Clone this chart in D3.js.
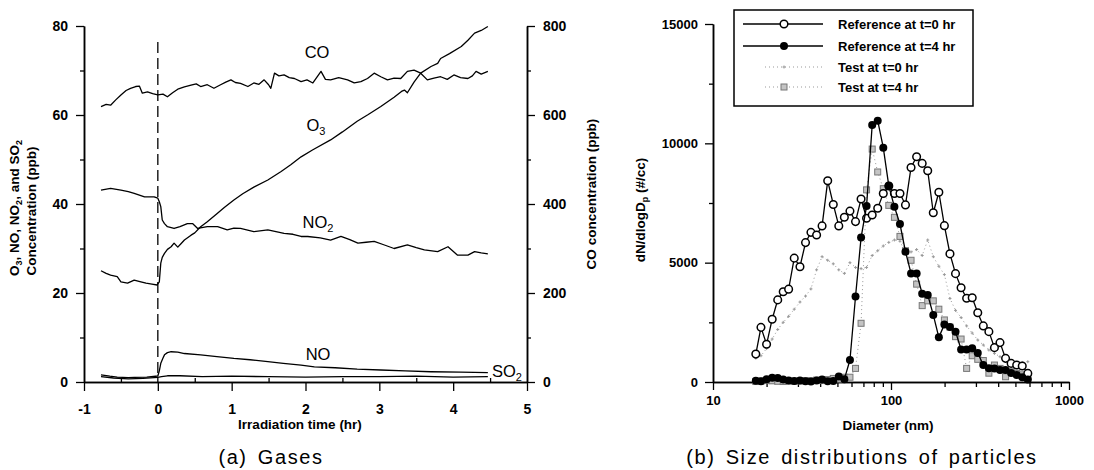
<!DOCTYPE html>
<html>
<head>
<meta charset="utf-8">
<script src="https://cdn.jsdelivr.net/npm/d3@7"></script>
<style>
body { margin: 0; background: #fff; }
svg { display: block; font-family: "Liberation Sans", Arial, Helvetica, sans-serif; }
</style>
</head>
<body>
<svg id="fig" width="1094" height="470"></svg>
<script>
// ---------- (a) gases : values ----------
const coTime = [-0.77, -0.70, -0.64, -0.57, -0.50, -0.43, -0.37, -0.30, -0.25, -0.21, -0.14, -0.07, 0, 0.07, 0.13, 0.20, 0.27, 0.36, 0.45, 0.52, 0.58, 0.67, 0.76, 0.85, 0.92, 0.99, 1.05, 1.12, 1.22, 1.30, 1.37, 1.44, 1.50, 1.53, 1.58, 1.64, 1.71, 1.78, 1.85, 1.94, 2.02, 2.10, 2.21, 2.27, 2.34, 2.45, 2.57, 2.66, 2.75, 2.84, 2.93, 3.02, 3.11, 3.20, 3.29, 3.38, 3.47, 3.56, 3.65, 3.74, 3.83, 3.92, 4.01, 4.10, 4.20, 4.26, 4.31, 4.38, 4.47];
const coPpb = [619, 624, 622, 634, 645, 655, 660, 664, 665, 649, 652, 648, 645, 647, 641, 650, 658, 663, 667, 670, 664, 668, 660, 668, 674, 679, 673, 671, 664, 672, 669, 679, 668, 660, 694, 688, 690, 684, 682, 675, 679, 672, 698, 680, 679, 684, 679, 672, 675, 682, 694, 686, 679, 683, 682, 698, 701, 694, 679, 683, 686, 680, 690, 684, 682, 688, 698, 692, 698];

const o3Time = [-0.77, -0.70, -0.64, -0.55, -0.50, -0.41, -0.32, -0.23, -0.16, -0.08, -0.01, 0.02, 0.04, 0.06, 0.09, 0.13, 0.18, 0.22, 0.27, 0.31, 0.36, 0.45, 0.50, 0.58, 0.67, 0.80, 0.90, 1.03, 1.15, 1.30, 1.49, 1.67, 1.80, 1.94, 2.10, 2.34, 2.50, 2.70, 2.85, 3.02, 3.20, 3.30, 3.34, 3.38, 3.47, 3.56, 3.70, 3.79, 3.83, 3.95, 4.11, 4.20, 4.29, 4.38, 4.47];
const o3Ppb = [25.0, 24.4, 24.0, 23.7, 22.5, 22.2, 22.9, 22.5, 22.2, 22.0, 21.8, 22.5, 26.7, 28.0, 28.9, 29.8, 30.4, 31.2, 30.3, 31.0, 31.9, 33.0, 33.5, 34.9, 36.0, 37.8, 39.2, 40.9, 42.3, 43.8, 45.4, 47.3, 48.8, 50.6, 52.2, 54.4, 56.2, 58.6, 60.1, 61.9, 64.0, 65.3, 65.6, 65.0, 67.4, 69.4, 70.9, 71.6, 72.7, 73.8, 75.4, 76.8, 78.4, 79.0, 79.9];

const no2Time = [-0.77, -0.64, -0.50, -0.40, -0.32, -0.18, -0.05, 0, 0.02, 0.04, 0.06, 0.09, 0.13, 0.22, 0.30, 0.40, 0.47, 0.54, 0.67, 0.81, 0.94, 1.03, 1.12, 1.30, 1.49, 1.60, 1.71, 1.83, 1.94, 2.03, 2.20, 2.34, 2.48, 2.60, 2.71, 2.82, 2.93, 3.05, 3.20, 3.38, 3.50, 3.61, 3.79, 3.93, 4.06, 4.20, 4.29, 4.38, 4.47];
const no2Ppb = [43.1, 43.5, 43.1, 42.8, 42.4, 41.6, 41.6, 41.3, 40.5, 39.4, 36.4, 35.6, 34.9, 34.5, 34.9, 35.6, 35.6, 34.5, 34.9, 34.9, 34.2, 34.6, 34.5, 33.8, 34.2, 33.8, 33.4, 33.2, 32.7, 32.7, 32.4, 31.9, 32.7, 32.0, 31.2, 31.4, 31.6, 30.9, 30.0, 30.8, 30.2, 29.7, 29.3, 30.4, 28.5, 28.5, 29.3, 29.0, 28.8];

const noTime = [-0.77, -0.65, -0.55, -0.40, -0.32, -0.15, 0, 0.02, 0.04, 0.07, 0.09, 0.13, 0.18, 0.27, 0.36, 0.58, 0.80, 1.03, 1.25, 1.49, 1.70, 1.94, 2.12, 2.40, 2.70, 3.02, 3.35, 3.70, 4.10, 4.47];
const noPpb = [1.6, 1.3, 1.1, 1.0, 1.05, 1.1, 1.35, 2.5, 4.2, 5.4, 6.1, 6.6, 6.8, 6.7, 6.4, 6.1, 5.7, 5.3, 5.0, 4.6, 4.2, 3.8, 3.4, 3.2, 2.9, 2.7, 2.5, 2.3, 2.2, 2.1];

const so2Time = [-0.77, -0.60, -0.40, -0.20, 0, 0.05, 0.13, 0.30, 0.60, 1.00, 1.50, 2.00, 2.50, 3.00, 3.50, 4.00, 4.47];
const so2Ppb = [1.2, 0.9, 0.7, 0.8, 1.05, 1.2, 1.4, 1.4, 1.2, 1.3, 1.2, 1.1, 1.2, 1.2, 1.3, 1.1, 1.2];

const irradiationStart = 0;
const timeTicks = [-1, 0, 1, 2, 3, 4, 5];
const timeMinor = [-0.5, 0.5, 1.5, 2.5, 3.5, 4.5];
const ppbTicks = [0, 20, 40, 60, 80];
const ppbMinor = [10, 30, 50, 70];
const coTicks = [0, 200, 400, 600, 800];
const coMinor = [100, 300, 500, 700];

// ---------- (b) particle size distributions ----------
const diameters = [17.4, 18.6, 20.0, 21.5, 23.1, 24.8, 26.6, 28.6, 30.8, 33.1, 35.5, 38.2, 41.0, 44.1, 47.4, 50.9, 54.7, 58.8, 63.2, 67.9, 72.9, 78.4, 84.2, 90.5, 97.2, 104.5, 112.3, 120.6, 129.6, 139.3, 149.7, 160.8, 172.8, 185.7, 199.5, 214.4, 230.4, 247.6, 266.0, 285.9, 307.2, 330.1, 354.7, 381.2, 409.6, 440.2, 473.0, 508.3, 546.2, 587.0];
const refT0 = [1170, 2290, 1580, 2630, 3440, 3780, 3890, 5190, 4830, 5840, 6270, 6160, 6540, 8430, 7440, 6540, 6900, 7160, 6720, 7670, 6860, 7000, 7280, 7900, 8210, 7900, 7900, 7420, 8990, 9440, 9160, 8850, 7090, 7950, 6550, 5370, 4540, 3950, 3510, 3530, 2900, 2350, 2110, 1440, 1650, 990, 780, 710, 670, 360];
const refT4 = [50, 30, 120, 180, 170, 100, 60, 40, 60, 30, 20, 60, 100, 30, 40, 230, 120, 920, 3580, 6050, 7370, 10770, 10950, 9820, 8220, 7340, 6620, 5460, 4550, 4550, 3700, 3650, 2810, 1870, 2410, 2300, 2110, 1360, 1360, 1410, 1220, 710, 580, 570, 500, 500, 380, 290, 200, 100];
const testT0 = [1000, 1100, 1400, 1800, 2200, 2500, 2750, 3050, 3350, 3600, 3900, 4700, 5250, 5100, 4950, 4700, 4550, 5000, 4800, 4750, 4800, 5300, 5500, 5700, 5850, 5950, 5900, 5400, 5450, 5550, 5300, 5950, 5250, 4850, 4500, 3500, 3000, 2700, 2350, 2050, 1760, 1550, 1340, 1200, 1060, 920, 850, 780, 820, 850];
const testT4 = [20, 40, 60, 50, 30, 20, 40, 30, 40, 60, 50, 80, 60, 100, 150, 120, 200, 200, 570, 2460, 8050, 9760, 8800, 8100, 7400, 6900, 6100, 5500, 5100, 4100, 3200, 3400, 3400, 3050, 2600, 2300, 1900, 1800, 570, 1100, 950, 900, 370, 710, 570, 220, 430, 360, 300, 220];
const seriesNames = ["Reference at t=0 hr", "Reference at t=4 hr", "Test at t=0 hr", "Test at t=4 hr"];
const dnTicks = [0, 5000, 10000, 15000];
const dnMinor = [2500, 7500, 12500];
const diaTicks = [10, 100, 1000];
const diaMinor = [20, 30, 40, 50, 60, 70, 80, 90, 200, 300, 400, 500, 600, 700, 800, 900];

/////////////////////////////////////////////////////
const svg = d3.select("#fig");

// writes text with subscript pieces, parts = [[string, isSub], ...]
function rich(sel, parts, subSize, shift) {
    let down = false;
    parts.forEach(([s, sub]) => {
        const t = sel.append("tspan").text(s);
        if (sub && !down) { t.attr("dy", shift).attr("font-size", subSize); down = true; }
        else if (sub) { t.attr("font-size", subSize); }
        else if (down) { t.attr("dy", -shift); down = false; }
    });
    return sel;
}

function styleAxis(g, size) {
    g.select(".domain").attr("stroke-width", 1.5);
    g.selectAll(".tick line").attr("stroke-width", 1.3);
    g.selectAll("text").attr("font-size", size).attr("font-weight", "bold").attr("fill", "#000");
}

const plain = d => String(d);

// ---------------- panel (a) ----------------
const x = d3.scaleLinear().domain([-1, 5]).range([84, 527]);
const y = d3.scaleLinear().domain([0, 80]).range([382, 26]);
const yCO = d3.scaleLinear().domain([0, 800]).range([382, 26]);

const pa = svg.append("g");

pa.append("g").attr("transform", "translate(0,382)")
    .call(d3.axisBottom(x).tickValues(timeTicks).tickFormat(plain).tickSize(9).tickPadding(13).tickSizeOuter(0))
    .call(g => styleAxis(g, 14));
pa.append("g").attr("transform", "translate(0,382)")
    .call(d3.axisBottom(x).tickValues(timeMinor).tickFormat("").tickSize(-4).tickSizeOuter(0))
    .call(g => styleAxis(g, 14));

pa.append("g").attr("transform", "translate(84,0)")
    .call(d3.axisLeft(y).tickValues(ppbTicks).tickFormat(plain).tickSize(8).tickPadding(8).tickSizeOuter(0))
    .call(g => styleAxis(g, 14));
pa.append("g").attr("transform", "translate(84,0)")
    .call(d3.axisLeft(y).tickValues(ppbMinor).tickFormat("").tickSize(4).tickSizeOuter(0))
    .call(g => styleAxis(g, 14));

pa.append("g").attr("transform", "translate(527,0)")
    .call(d3.axisRight(yCO).tickValues(coTicks).tickFormat(plain).tickSize(8).tickPadding(8).tickSizeOuter(0))
    .call(g => styleAxis(g, 14));
pa.append("g").attr("transform", "translate(527,0)")
    .call(d3.axisRight(yCO).tickValues(coMinor).tickFormat("").tickSize(4).tickSizeOuter(0))
    .call(g => styleAxis(g, 14));

// start of irradiation
pa.append("line")
    .attr("x1", x(irradiationStart)).attr("x2", x(irradiationStart))
    .attr("y1", 42).attr("y2", y(0))
    .attr("stroke", "#000").attr("stroke-width", 1.3).attr("stroke-dasharray", "11,5");

const lineL = d3.line().x(d => x(d[0])).y(d => y(d[1]));
const lineCO = d3.line().x(d => x(d[0])).y(d => yCO(d[1]));

const gasLines = [
    [d3.zip(o3Time, o3Ppb), lineL],
    [d3.zip(no2Time, no2Ppb), lineL],
    [d3.zip(noTime, noPpb), lineL],
    [d3.zip(so2Time, so2Ppb), lineL],
    [d3.zip(coTime, coPpb), lineCO]
];
pa.append("g").selectAll("path")
    .data(gasLines)
    .join("path")
        .attr("d", d => d[1](d[0]))
        .attr("fill", "none")
        .attr("stroke", "#000")
        .attr("stroke-width", 1.3)
        .attr("stroke-linejoin", "round");

// curve labels
const gasLabels = [
    { x: 317, y: 58, anchor: "middle", parts: [["CO"]] },
    { x: 316, y: 131, anchor: "middle", parts: [["O"], ["3", true]] },
    { x: 318, y: 228, anchor: "middle", parts: [["NO"], ["2", true]] },
    { x: 318, y: 360, anchor: "middle", parts: [["NO"]] },
    { x: 492, y: 377, anchor: "start", parts: [["SO"], ["2", true]] }
];
gasLabels.forEach(l => {
    const t = pa.append("text").attr("x", l.x).attr("y", l.y)
        .attr("text-anchor", l.anchor).attr("font-size", 16.5);
    rich(t, l.parts, 11, 4);
});

// axis titles
rich(pa.append("text").attr("transform", "translate(19,208) rotate(-90)")
    .attr("text-anchor", "middle").attr("font-size", 13.5).attr("font-weight", "bold"),
    [["O"], ["3", true], [", NO, NO"], ["2", true], [", and SO"], ["2", true]], 9, 3);
pa.append("text").attr("transform", "translate(36,211) rotate(-90)")
    .attr("text-anchor", "middle").attr("font-size", 13.5).attr("font-weight", "bold")
    .text("Concentration (ppb)");
pa.append("text").attr("transform", "translate(596,194) rotate(-90)")
    .attr("text-anchor", "middle").attr("font-size", 13.5).attr("font-weight", "bold")
    .text("CO concentration (ppb)");
pa.append("text").attr("x", 300).attr("y", 429)
    .attr("text-anchor", "middle").attr("font-size", 13.5).attr("font-weight", "bold")
    .text("Irradiation time (hr)");
pa.append("text").attr("x", 271).attr("y", 464)
    .attr("text-anchor", "middle").attr("font-size", 20)
    .attr("letter-spacing", 1.6).attr("word-spacing", 3)
    .text("(a) Gases");

// ---------------- panel (b) ----------------
const xd = d3.scaleLog().domain([10, 1000]).range([713, 1069]);
const yd = d3.scaleLinear().domain([0, 15000]).range([382, 24]);

const pb = svg.append("g");

pb.append("g").attr("transform", "translate(0,382)")
    .call(d3.axisBottom(xd).tickValues(diaTicks).tickFormat(plain).tickSize(8).tickPadding(6).tickSizeOuter(0))
    .call(g => styleAxis(g, 13));
pb.append("g").attr("transform", "translate(0,382)")
    .call(d3.axisBottom(xd).tickValues(diaMinor).tickFormat("").tickSize(5).tickSizeOuter(0))
    .call(g => styleAxis(g, 13));
pb.append("g").attr("transform", "translate(713,0)")
    .call(d3.axisLeft(yd).tickValues(dnTicks).tickFormat(plain).tickSize(8).tickPadding(7).tickSizeOuter(0))
    .call(g => styleAxis(g, 13));
pb.append("g").attr("transform", "translate(713,0)")
    .call(d3.axisLeft(yd).tickValues(dnMinor).tickFormat("").tickSize(4).tickSizeOuter(0))
    .call(g => styleAxis(g, 13));

const lineD = d3.line().x(d => xd(d[0])).y(d => yd(d[1]));

const distSeries = [
    { name: seriesNames[0], pts: d3.zip(diameters, refT0), stroke: "#000", dash: null, mark: "open" },
    { name: seriesNames[1], pts: d3.zip(diameters, refT4), stroke: "#000", dash: null, mark: "filled" },
    { name: seriesNames[2], pts: d3.zip(diameters, testT0), stroke: "#999", dash: "1,3", mark: "speck" },
    { name: seriesNames[3], pts: d3.zip(diameters, testT4), stroke: "#999", dash: "1,3", mark: "square" }
];

function drawMark(g, kind, px, py) {
    if (kind === "open") {
        g.append("circle").attr("cx", px).attr("cy", py).attr("r", 3.8)
            .attr("fill", "#fff").attr("stroke", "#000").attr("stroke-width", 1.5);
    } else if (kind === "filled") {
        g.append("circle").attr("cx", px).attr("cy", py).attr("r", 4)
            .attr("fill", "#000");
    } else if (kind === "speck") {
        g.append("path").attr("d", `M${px - 1.5},${py}h3M${px},${py - 1.5}v3`)
            .attr("stroke", "#999").attr("stroke-width", 1);
    } else {
        g.append("rect").attr("x", px - 3).attr("y", py - 3).attr("width", 6).attr("height", 6)
            .attr("fill", "#c4c4c4").attr("stroke", "#777").attr("stroke-width", 1);
    }
}

// draw test series first, references on top
[2, 3, 0, 1].forEach(i => {
    const s = distSeries[i];
    const g = pb.append("g");
    g.append("path")
        .attr("d", lineD(s.pts))
        .attr("fill", "none")
        .attr("stroke", s.stroke)
        .attr("stroke-width", s.dash ? 1 : 1.3)
        .attr("stroke-dasharray", s.dash);
    s.pts.forEach(p => drawMark(g, s.mark, xd(p[0]), yd(p[1])));
});

// legend
const leg = pb.append("g");
leg.append("rect").attr("x", 734).attr("y", 10).attr("width", 239).attr("height", 96)
    .attr("fill", "#fff").attr("stroke", "#000").attr("stroke-width", 1.5);
const legRows = [24, 46, 67, 87];
distSeries.forEach((s, i) => {
    const ry = legRows[i];
    leg.append("line").attr("x1", s.dash ? 765 : 743).attr("x2", 823).attr("y1", ry).attr("y2", ry)
        .attr("stroke", s.stroke).attr("stroke-width", s.dash ? 1 : 1.3)
        .attr("stroke-dasharray", s.dash);
    drawMark(leg, s.mark, 784, ry);
    leg.append("text").attr("x", 838).attr("y", ry + 4.5)
        .attr("font-size", 13).attr("font-weight", "bold").text(s.name);
});

// titles
rich(pb.append("text").attr("transform", "translate(645,210) rotate(-90)")
    .attr("text-anchor", "middle").attr("font-size", 13.5).attr("font-weight", "bold"),
    [["dN/dlogD"], ["p", true], [" (#/cc)"]], 9, 3);
pb.append("text").attr("x", 888).attr("y", 430)
    .attr("text-anchor", "middle").attr("font-size", 13.5).attr("font-weight", "bold")
    .text("Diameter (nm)");
pb.append("text").attr("x", 862).attr("y", 464)
    .attr("text-anchor", "middle").attr("font-size", 20)
    .attr("letter-spacing", 1.6).attr("word-spacing", 3)
    .text("(b) Size distributions of particles");
</script>
</body>
</html>
